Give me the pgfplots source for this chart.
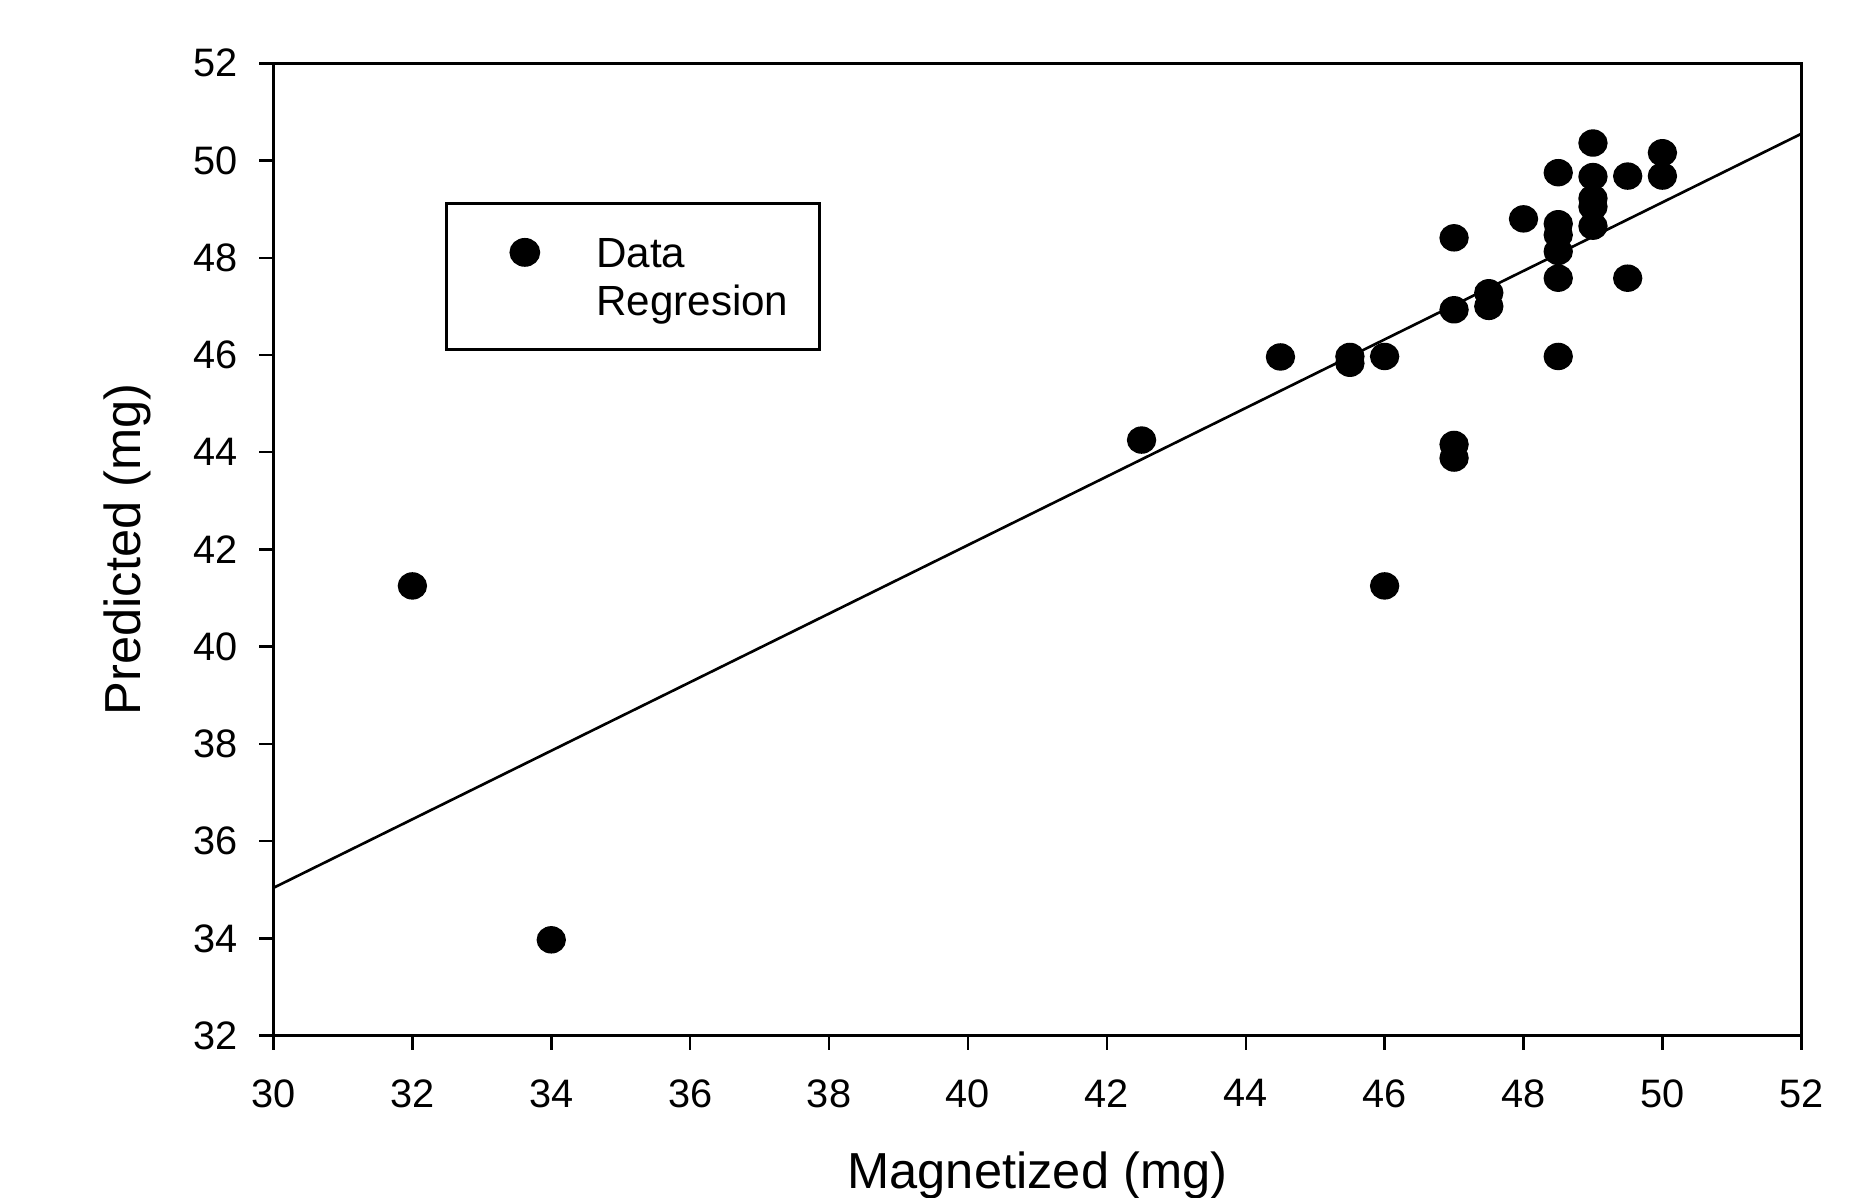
\documentclass[border=0pt]{standalone}
\usepackage{pgfplots}
\pgfplotsset{compat=1.18}
\usepackage{fontspec}
\setmainfont{Liberation Sans}
\begin{document}
\begin{tikzpicture}
% marco de la figura (el eje va con su esquina inferior izquierda en el origen)
\useasboundingbox (-2.735cm,-1.614cm) rectangle (15.995cm,10.356cm);
\begin{axis}[
    name=ax,
    scale only axis,
    width=15.278cm, height=9.723cm,
    xmin=30, xmax=52, ymin=32, ymax=52,
    xtick={30,32,...,52}, ytick={32,34,...,52},
    tick align=outside, xtick pos=bottom, ytick pos=left,
    major tick length=0.14cm,
    axis line style={line width=0.8pt},
    every tick/.style={black, line width=0.7pt},
    /pgf/number format/assume math mode=true,
    tick label style={font=\fontsize{11.3}{13}\selectfont, inner sep=0pt},
    xticklabel style={anchor=north, yshift=-0.29cm},
    yticklabel style={anchor=east, xshift=-0.21cm},
    xlabel={Magnetized (mg)},
    ylabel={Predicted (mg)},
    label style={font=\fontsize{14.4}{16}\selectfont},
    xlabel style={at={(axis description cs:0.5,0)}, anchor=center, yshift=-1.40cm},
    ylabel style={at={(axis description cs:0,0.5)}, anchor=center, yshift=1.465cm},
    legend style={at={(axis cs:32.47,49.15)}, anchor=north west,
        draw=black, line width=0.8pt,
        font=\fontsize{12}{14}\selectfont,
        inner xsep=0.31cm, inner ysep=0.34cm,
        row sep=0.18cm, column sep=0pt,
        nodes={inner sep=0pt, text height=8.6pt, text depth=0pt}},
    legend cell align=left,
    legend image code/.code={\path (0,0) (1.16cm,0); \draw[#1] plot coordinates {(0.46cm,0cm)};},
]
% Datos
\addplot[only marks, mark=*, mark size=3.7pt, mark options={xscale=1.075, fill=black, draw=black}]
    table {
    x y
    32 41.25
    34 33.97
    42.5 44.25
    44.5 45.96
    45.5 45.97
    45.5 45.83
    46 45.97
    46 41.25
    47 48.41
    47 46.93
    47 44.16
    47 43.88
    47.5 47.28
    47.5 47.00
    48 48.80
    48.5 49.75
    48.5 48.70
    48.5 48.47
    48.5 48.13
    48.5 47.58
    48.5 45.97
    49 50.36
    49 49.67
    49 49.22
    49 49.05
    49 48.65
    49.5 49.68
    49.5 47.58
    50 50.16
    50 49.68
    };
\addlegendentry{Data}
% Recta de regresion
\addplot[black, line width=0.75pt, forget plot] coordinates {(30,35.04) (52,50.55)};
\addlegendimage{empty legend}
\addlegendentry{Regresion}
\end{axis}
\end{tikzpicture}
\end{document}
